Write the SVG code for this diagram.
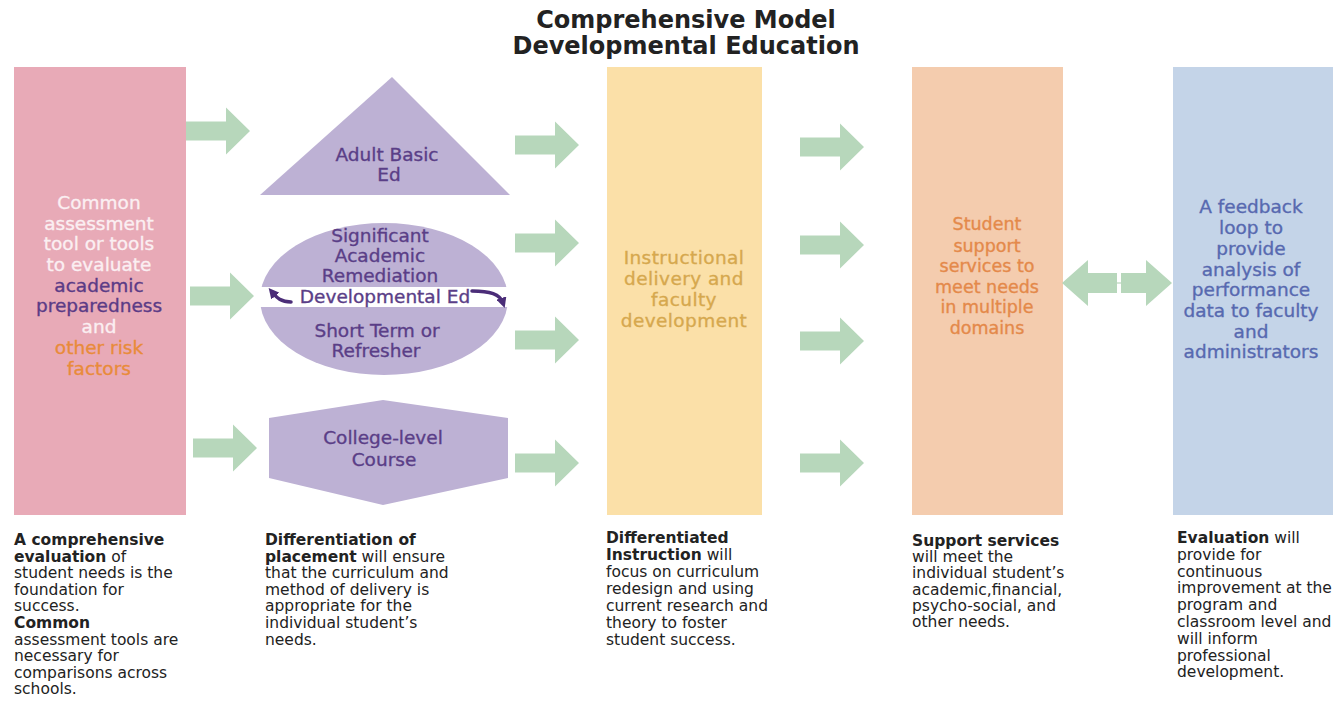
<svg xmlns="http://www.w3.org/2000/svg" xmlns:xlink="http://www.w3.org/1999/xlink" width="1339" height="703" viewBox="0 0 1339 703">
  <style>
    text { font-family: "DejaVu Sans", "Liberation Sans", sans-serif; }
    .title { font-size: 24px; font-weight: bold; fill: #222; text-anchor: middle; }
    .box-text { font-size: 18.5px; text-anchor: middle; stroke-width: 0.35px; }
    .shape-text { font-size: 18.5px; text-anchor: middle; fill: #5a3e87; stroke: #5a3e87; stroke-width: 0.35px; }
    .caption { font-size: 15.5px; fill: #222; }
    .caption tspan.b { font-weight: bold; }
    .arrow { fill: #b7d7bb; }
    .curl { fill: none; stroke: #4b2d78; stroke-width: 3.5; stroke-linecap: round; }
  </style>
  <defs>
    <!-- block arrow pointing right, origin at the tail centre -->
    <path id="block-arrow" d="M0,-9.5 H40 V-23.5 L64,0 L40,23.5 V9.5 H0 Z"/>
    <marker id="curl-head" viewBox="0 0 10 10" refX="5" refY="5" markerWidth="3" markerHeight="3" orient="auto">
      <path d="M0,0 L10,5 L0,10 Z" fill="#4b2d78"/>
    </marker>
  </defs>

  <rect width="1339" height="703" fill="#ffffff"/>

  <g id="title">
    <text class="title" x="686" y="28">Comprehensive Model</text>
    <text class="title" x="686" y="54">Developmental Education</text>
  </g>

  <g id="node-assessment">
    <rect x="14" y="67" width="172" height="448" fill="#e8aab7"/>
    <text class="box-text" x="99" y="209" fill="#fbeff2" stroke="#fbeff2">Common</text>
    <text class="box-text" x="99" y="230" fill="#fbeff2" stroke="#fbeff2">assessment</text>
    <text class="box-text" x="99" y="250" fill="#fbeff2" stroke="#fbeff2">tool or tools</text>
    <text class="box-text" x="99" y="271" fill="#fbeff2" stroke="#fbeff2">to evaluate</text>
    <text class="box-text" x="99" y="292" fill="#5b3b86" stroke="#5b3b86">academic</text>
    <text class="box-text" x="99" y="312" fill="#5b3b86" stroke="#5b3b86">preparedness</text>
    <text class="box-text" x="99" y="333" fill="#fbeff2" stroke="#fbeff2">and</text>
    <text class="box-text" x="99" y="354" fill="#e98b3a" stroke="#e98b3a">other risk</text>
    <text class="box-text" x="99" y="375" fill="#e98b3a" stroke="#e98b3a">factors</text>
  </g>

  <g id="node-adult-basic">
    <polygon points="392,77 510,195 260,195" fill="#bdb1d4"/>
    <text class="shape-text" x="387" y="161">Adult Basic</text>
    <text class="shape-text" x="389" y="181">Ed</text>
  </g>

  <g id="node-developmental">
    <ellipse cx="384" cy="299" rx="124" ry="76" fill="#bdb1d4"/>
    <rect x="254" y="287" width="262" height="20" fill="#ffffff"/>
    <text class="shape-text" x="380" y="242">Significant</text>
    <text class="shape-text" x="380" y="262">Academic</text>
    <text class="shape-text" x="380" y="282">Remediation</text>
    <text class="shape-text" x="385" y="303" fill="#5b4a7c" stroke="#5b4a7c" stroke-width="0.1">Developmental Ed</text>
    <text class="shape-text" x="377" y="337">Short Term or</text>
    <text class="shape-text" x="376" y="357">Refresher</text>
    <path class="curl" d="M291,302 C281,302 277,298 272,292" marker-end="url(#curl-head)"/>
    <path class="curl" d="M472,291 C490,291 500,294 503,303" marker-end="url(#curl-head)"/>
  </g>

  <g id="node-college">
    <polygon points="269,418 383,400 508,418 508,478 383,505 269,478" fill="#bdb1d4"/>
    <text class="shape-text" x="383" y="444">College-level</text>
    <text class="shape-text" x="384" y="466">Course</text>
  </g>

  <g id="node-instruction">
    <rect x="607" y="67" width="155" height="448" fill="#fbe0a8"/>
    <text class="box-text" x="684" y="264" fill="#d6a84e" stroke="#d6a84e" letter-spacing="0.4">Instructional</text>
    <text class="box-text" x="684" y="285" fill="#d6a84e" stroke="#d6a84e" letter-spacing="0.4">delivery and</text>
    <text class="box-text" x="684" y="306" fill="#d6a84e" stroke="#d6a84e" letter-spacing="0.4">faculty</text>
    <text class="box-text" x="684" y="327" fill="#d6a84e" stroke="#d6a84e" letter-spacing="0.4">development</text>
  </g>

  <g id="node-support">
    <rect x="912" y="67" width="151" height="448" fill="#f4ccae"/>
    <text class="box-text" x="987" y="230" fill="#e4894a" stroke="#e4894a" style="font-size:17.5px">Student</text>
    <text class="box-text" x="987" y="252" fill="#e4894a" stroke="#e4894a" style="font-size:17.5px">support</text>
    <text class="box-text" x="987" y="272" fill="#e4894a" stroke="#e4894a" style="font-size:17.5px">services to</text>
    <text class="box-text" x="987" y="293" fill="#e4894a" stroke="#e4894a" style="font-size:17.5px">meet needs</text>
    <text class="box-text" x="987" y="313" fill="#e4894a" stroke="#e4894a" style="font-size:17.5px">in multiple</text>
    <text class="box-text" x="987" y="334" fill="#e4894a" stroke="#e4894a" style="font-size:17.5px">domains</text>
  </g>

  <g id="node-feedback">
    <rect x="1173" y="67" width="160" height="448" fill="#c4d4e8"/>
    <text class="box-text" x="1251" y="213" fill="#5769b0" stroke="#5769b0">A feedback</text>
    <text class="box-text" x="1251" y="234" fill="#5769b0" stroke="#5769b0">loop to</text>
    <text class="box-text" x="1251" y="255" fill="#5769b0" stroke="#5769b0">provide</text>
    <text class="box-text" x="1251" y="276" fill="#5769b0" stroke="#5769b0">analysis of</text>
    <text class="box-text" x="1251" y="296" fill="#5769b0" stroke="#5769b0">performance</text>
    <text class="box-text" x="1251" y="317" fill="#5769b0" stroke="#5769b0">data to faculty</text>
    <text class="box-text" x="1251" y="338" fill="#5769b0" stroke="#5769b0">and</text>
    <text class="box-text" x="1251" y="358" fill="#5769b0" stroke="#5769b0">administrators</text>
  </g>

  <g id="connectors">
    <!-- assessment to placement -->
    <use class="arrow" xlink:href="#block-arrow" href="#block-arrow" x="186" y="131"/>
    <use class="arrow" xlink:href="#block-arrow" href="#block-arrow" x="190" y="296"/>
    <use class="arrow" xlink:href="#block-arrow" href="#block-arrow" x="193" y="448"/>
    <!-- placement to instruction -->
    <use class="arrow" xlink:href="#block-arrow" href="#block-arrow" x="515" y="145"/>
    <use class="arrow" xlink:href="#block-arrow" href="#block-arrow" x="515" y="243"/>
    <use class="arrow" xlink:href="#block-arrow" href="#block-arrow" x="515" y="340"/>
    <use class="arrow" xlink:href="#block-arrow" href="#block-arrow" x="515" y="463"/>
    <!-- instruction to support -->
    <use class="arrow" xlink:href="#block-arrow" href="#block-arrow" x="800" y="147"/>
    <use class="arrow" xlink:href="#block-arrow" href="#block-arrow" x="800" y="245"/>
    <use class="arrow" xlink:href="#block-arrow" href="#block-arrow" x="800" y="341"/>
    <use class="arrow" xlink:href="#block-arrow" href="#block-arrow" x="800" y="463"/>
    <!-- two-way link between support and feedback -->
    <path class="arrow" d="M1117,273 H1088 V260 L1062,283 L1088,306 V293 H1117 Z"/>
    <path class="arrow" d="M1121,273 H1146 V260 L1172,283 L1146,306 V293 H1121 Z"/>
    <line x1="1117" y1="283" x2="1121" y2="283" stroke="#d5e6d7" stroke-width="2"/>
  </g>

  <g id="caption-assessment">
    <text class="caption" x="14" y="545"><tspan class="b">A comprehensive</tspan></text>
    <text class="caption" x="14" y="562"><tspan class="b">evaluation</tspan> of</text>
    <text class="caption" x="14" y="578">student needs is the</text>
    <text class="caption" x="14" y="595">foundation for</text>
    <text class="caption" x="14" y="611">success.</text>
    <text class="caption" x="14" y="628"><tspan class="b">Common</tspan></text>
    <text class="caption" x="14" y="645">assessment tools are</text>
    <text class="caption" x="14" y="661">necessary for</text>
    <text class="caption" x="14" y="678">comparisons across</text>
    <text class="caption" x="14" y="694">schools.</text>
  </g>

  <g id="caption-placement">
    <text class="caption" x="265" y="545"><tspan class="b">Differentiation of</tspan></text>
    <text class="caption" x="265" y="562"><tspan class="b">placement</tspan> will ensure</text>
    <text class="caption" x="265" y="578">that the curriculum and</text>
    <text class="caption" x="265" y="595">method of delivery is</text>
    <text class="caption" x="265" y="611">appropriate for the</text>
    <text class="caption" x="265" y="628">individual student’s</text>
    <text class="caption" x="265" y="645">needs.</text>
  </g>

  <g id="caption-instruction">
    <text class="caption" x="606" y="543"><tspan class="b">Differentiated</tspan></text>
    <text class="caption" x="606" y="560"><tspan class="b">Instruction</tspan> will</text>
    <text class="caption" x="606" y="577">focus on curriculum</text>
    <text class="caption" x="606" y="594">redesign and using</text>
    <text class="caption" x="606" y="611">current research and</text>
    <text class="caption" x="606" y="628">theory to foster</text>
    <text class="caption" x="606" y="645">student success.</text>
  </g>

  <g id="caption-support">
    <text class="caption" x="912" y="546"><tspan class="b">Support services</tspan></text>
    <text class="caption" x="912" y="562">will meet the</text>
    <text class="caption" x="912" y="578">individual student’s</text>
    <text class="caption" x="912" y="595">academic,financial,</text>
    <text class="caption" x="912" y="611">psycho-social, and</text>
    <text class="caption" x="912" y="627">other needs.</text>
  </g>

  <g id="caption-evaluation">
    <text class="caption" x="1177" y="543"><tspan class="b">Evaluation</tspan> will</text>
    <text class="caption" x="1177" y="560">provide for</text>
    <text class="caption" x="1177" y="577">continuous</text>
    <text class="caption" x="1177" y="593">improvement at the</text>
    <text class="caption" x="1177" y="610">program and</text>
    <text class="caption" x="1177" y="627">classroom level and</text>
    <text class="caption" x="1177" y="644">will inform</text>
    <text class="caption" x="1177" y="661">professional</text>
    <text class="caption" x="1177" y="677">development.</text>
  </g>
</svg>
